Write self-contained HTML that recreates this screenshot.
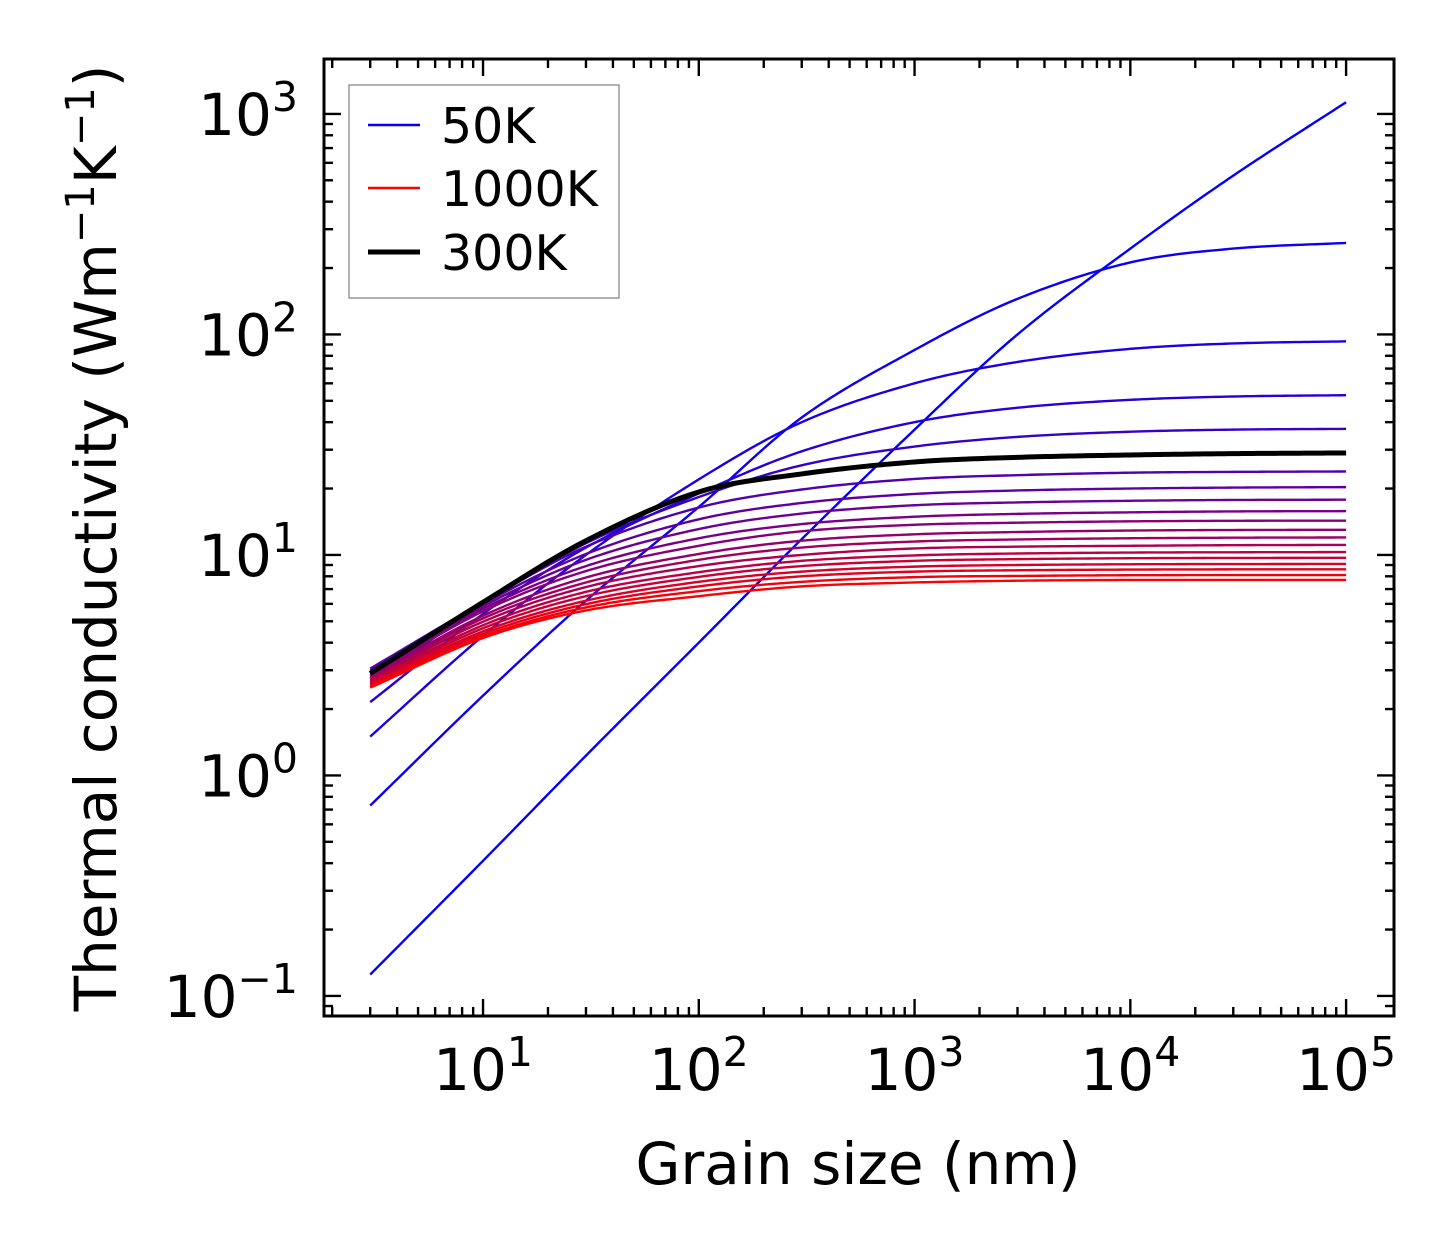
<!DOCTYPE html>
<html><head><meta charset="utf-8">
<style>
html,body{margin:0;padding:0;background:#fff;}
svg{display:block;font-family:"DejaVu Sans","Liberation Sans",sans-serif;}
</style></head>
<body>
<svg id="chart" width="1454" height="1254" viewBox="0 0 1454 1254" xmlns="http://www.w3.org/2000/svg">
<rect x="0" y="0" width="1454" height="1254" fill="#fff"/>
<defs><clipPath id="clip"><rect x="324" y="59" width="1070" height="957"/></clipPath></defs>
<g id="series" clip-path="url(#clip)"></g>
<g id="axes"></g>
<g id="legend">
  <rect x="349" y="85" width="270" height="213" fill="#fff" stroke="#999" stroke-width="1.5"/>
  <line x1="368" y1="125" x2="420" y2="125" stroke="#0000ff" stroke-width="2.4"/>
  <text x="441" y="143" font-size="49">50K</text>
  <line x1="368" y1="188" x2="420" y2="188" stroke="#ff0000" stroke-width="2.4"/>
  <text x="441" y="206" font-size="49">1000K</text>
  <line x1="368" y1="252" x2="420" y2="252" stroke="#000" stroke-width="5"/>
  <text x="441" y="270" font-size="49">300K</text>
</g>
<text x="858" y="1184" font-size="58" text-anchor="middle">Grain size (nm)</text>
<text transform="translate(116,538) rotate(-90)" font-size="58" text-anchor="middle">Thermal conductivity (Wm<tspan dy="-22" font-size="40">−1</tspan><tspan dy="22">K</tspan><tspan dy="-22" font-size="40">−1</tspan><tspan dy="22">)</tspan></text>
</svg>
<script>
const grainSizes = [3, 10, 30, 100, 300, 1000, 3000, 10000, 30000, 100000];
const temperatures = [50,100,150,200,250,300,350,400,450,500,550,600,650,700,750,800,850,900,950,1000];
const k50 = [0.125,0.41,1.23,4.0,11.8,37,100,245,525,1130];
const k100 = [0.73,2.3,6.2,16.5,42,85,145,212,245,260];
const k150 = [1.5,4.3,10,22,40,60,75,86,91,93];
const k200 = [2.15,5.4,10.8,19,29.5,40,46.5,50.5,52.3,53];
const k250 = [2.6,6.0,11.3,18.3,25.5,31,34.3,36.2,37,37.3];
const k300 = [2.9,6.1,11.6,19.3,23.3,26.4,27.7,28.4,28.8,29.0];
const k350 = [3.05,6.1,10.9,16.4,19.8,22.1,23.0,23.6,23.8,23.9];
const k400 = [3.0,6.0,10.1,14.5,17.2,18.9,19.6,20.0,20.2,20.3];
const k450 = [2.95,5.85,9.5,13.1,15.4,16.8,17.3,17.6,17.75,17.8];
const k500 = [2.9,5.7,8.9,11.9,13.8,14.9,15.35,15.6,15.75,15.8];
const k550 = [2.85,5.55,8.45,11.0,12.8,13.7,14.0,14.2,14.28,14.3];
const k600 = [2.8,5.3,7.9,10.1,11.6,12.4,12.7,12.9,12.97,13.0];
const k650 = [2.76,5.15,7.5,9.5,10.8,11.5,11.75,11.9,11.97,12.0];
const k700 = [2.72,4.98,7.15,8.9,10.0,10.7,10.9,11.0,11.07,11.1];
const k750 = [2.68,4.8,6.8,8.35,9.4,9.95,10.15,10.25,10.28,10.3];
const k800 = [2.64,4.65,6.5,7.95,8.9,9.4,9.57,9.66,9.69,9.7];
const k850 = [2.6,4.5,6.2,7.55,8.4,8.85,9.0,9.07,9.09,9.1];
const k900 = [2.57,4.38,5.98,7.2,8.0,8.4,8.52,8.58,8.6,8.6];
const k950 = [2.53,4.27,5.78,6.85,7.55,7.93,8.03,8.09,8.1,8.1];
const k1000 = [2.5,4.2,5.6,6.5,7.2,7.5,7.64,7.7,7.7,7.7];
const seriesValues = [k50,k100,k150,k200,k250,k300,k350,k400,k450,k500,k550,k600,k650,k700,k750,k800,k850,k900,k950,k1000];
const xTickExps = [1,2,3,4,5];
const yTickExps = [-1,0,1,2,3];

const NS = "http://www.w3.org/2000/svg";
const L=324,R=1394,T=59,B=1016;
const xMin=0.263,xMax=5.222,yMin=-1.091,yMax=3.249;
function xsE(e){return L+(e-xMin)/(xMax-xMin)*(R-L);}
function ysE(e){return B-(e-yMin)/(yMax-yMin)*(B-T);}
function mk(tag,attrs,parent){const el=document.createElementNS(NS,tag);for(const k in attrs)el.setAttribute(k,attrs[k]);parent.appendChild(el);return el;}

function curvePath(xv,yv){
  const lx=xv.map(Math.log10), ly=yv.map(Math.log10), n=lx.length;
  const m=[];
  for(let i=0;i<n;i++){
    if(i===0) m[i]=(ly[1]-ly[0])/(lx[1]-lx[0]);
    else if(i===n-1) m[i]=(ly[n-1]-ly[n-2])/(lx[n-1]-lx[n-2]);
    else m[i]=(ly[i+1]-ly[i-1])/(lx[i+1]-lx[i-1]);
  }
  let p="";
  for(let i=0;i<n-1;i++){
    const h=lx[i+1]-lx[i];
    for(let s=0;s<=24;s++){
      if(i>0&&s===0) continue;
      const t=s/24,t2=t*t,t3=t2*t;
      const y=(2*t3-3*t2+1)*ly[i]+(t3-2*t2+t)*h*m[i]+(-2*t3+3*t2)*ly[i+1]+(t3-t2)*h*m[i+1];
      const x=lx[i]+t*h;
      p+=(p?"L":"M")+xsE(x).toFixed(2)+","+ysE(y).toFixed(2);
    }
  }
  return p;
}

const sg=document.getElementById("series");
const nT=temperatures.length;
let blackIdx=-1;
seriesValues.forEach((vals,i)=>{
  if(temperatures[i]===300){blackIdx=i;return;}
  const f=i/(nT-1);
  const col="rgb("+Math.round(255*f)+",0,"+Math.round(255*(1-f))+")";
  const el=mk("path",{d:curvePath(grainSizes,vals),fill:"none",stroke:col,"stroke-width":2.4},sg);
  
  
});
{
  const el=mk("path",{d:curvePath(grainSizes,seriesValues[blackIdx]),fill:"none",stroke:"#000","stroke-width":5},sg);
  
  
}

const ax=document.getElementById("axes");
for(let e=-2;e<=6;e++){
  for(let m=1;m<=9;m++){
    const v=e+Math.log10(m); const major=(m===1); const len=major?17:9;
    if(v>=xMin&&v<=xMax){
      const x=xsE(v);
      const t1=mk("line",{x1:x,y1:B,x2:x,y2:B-len,stroke:"#000","stroke-width":2.4},ax);
      
      
      const t2=mk("line",{x1:x,y1:T,x2:x,y2:T+len,stroke:"#000","stroke-width":2.4},ax);
      
      
    }
    if(v>=yMin&&v<=yMax){
      const y=ysE(v);
      const t3=mk("line",{x1:L,y1:y,x2:L+len,y2:y,stroke:"#000","stroke-width":2.4},ax);
      
      
      const t4=mk("line",{x1:R,y1:y,x2:R-len,y2:y,stroke:"#000","stroke-width":2.4},ax);
      
      
    }
  }
}
const frame=mk("rect",{x:L,y:T,width:R-L,height:B-T,fill:"none",stroke:"#000","stroke-width":3},ax);



xTickExps.forEach(e=>{
  const t=mk("text",{x:xsE(e),y:1090,"font-size":58,"text-anchor":"middle"},ax);
  
  
  t.innerHTML='10<tspan dy="-24" font-size="41">'+e+'</tspan>';
});
yTickExps.forEach(e=>{
  const t=mk("text",{x:298,y:ysE(e)+21,"font-size":58,"text-anchor":"end"},ax);
  
  
  t.innerHTML='10<tspan dy="-24" font-size="41">'+(e<0?'−'+(-e):e)+'</tspan>';
});
</script>
</body></html>
